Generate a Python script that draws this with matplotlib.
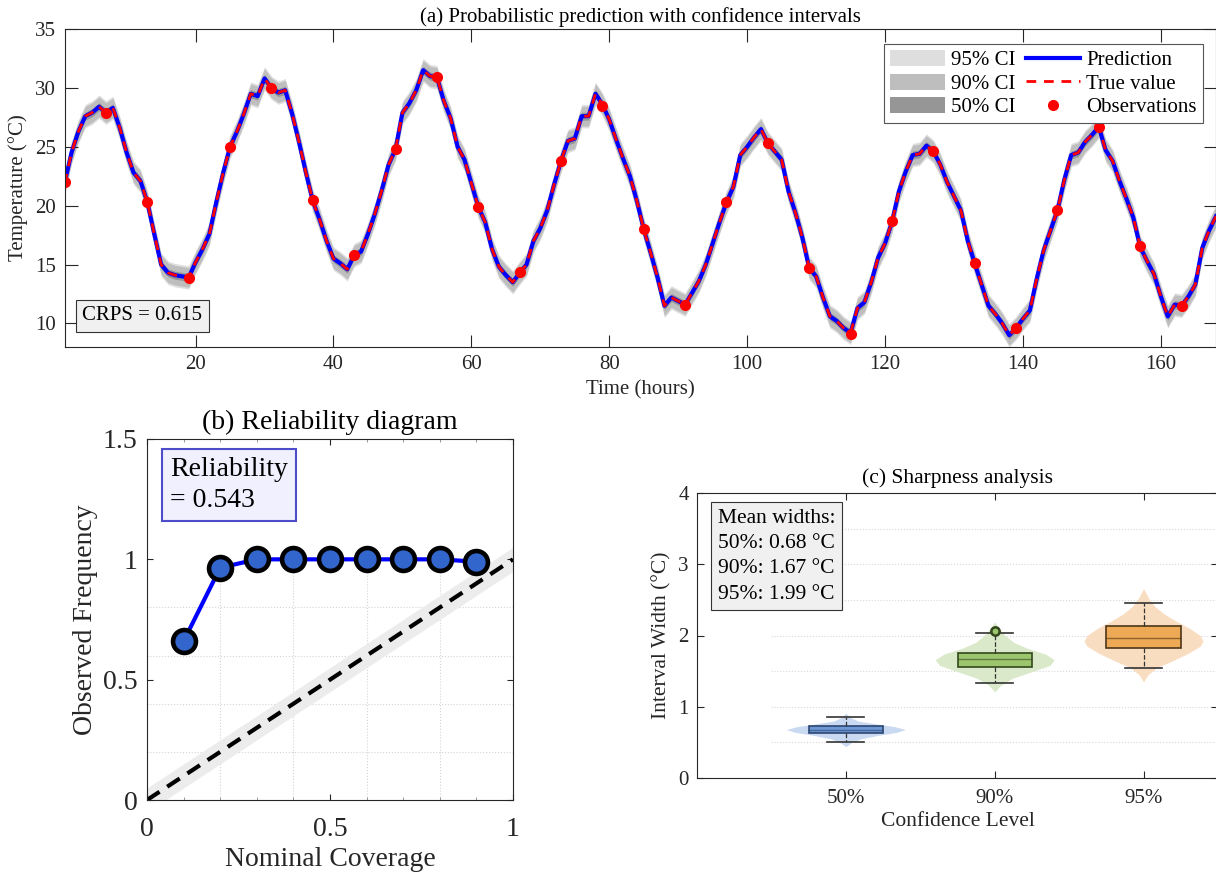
import numpy as np
import matplotlib.pyplot as plt

plt.rcParams['font.family'] = ['Liberation Serif', 'DejaVu Serif']
plt.rcParams['axes.linewidth'] = 0.8

# (a) hourly prediction (true value is drawn on top of it)
hours = np.arange(1, 169)
prediction = [
    21.9, 24.5, 26.3, 27.6, 27.9, 28.4, 27.9, 28.3, 26.6, 24.5, 22.8, 22.1,
    20.3, 17.6, 15.0, 14.3, 14.1, 14.0, 13.9, 15.2, 16.3, 17.6, 20.3, 22.8,
    25.0, 26.3, 27.8, 29.5, 29.3, 30.8, 30.0, 29.6, 29.8, 27.8, 25.4, 22.8,
    20.4, 18.8, 17.0, 15.5, 15.1, 14.6, 15.8, 16.1, 17.6, 19.3, 21.3, 23.5,
    24.8, 27.9, 28.7, 29.8, 31.5, 31.0, 30.9, 28.9, 27.4, 25.0, 23.9, 21.9,
    19.9, 18.6, 16.3, 14.8, 14.1, 13.5, 14.3, 15.0, 17.0, 18.1, 19.6, 21.8,
    23.8, 25.5, 25.7, 27.6, 27.6, 29.5, 28.6, 27.3, 25.6, 24.0, 22.5, 20.4,
    18.0, 16.0, 13.9, 11.5, 12.2, 11.9, 11.6, 12.6, 13.6, 15.0, 16.8, 18.6,
    20.3, 21.6, 24.3, 25.0, 25.8, 26.5, 25.3, 24.6, 23.9, 21.2, 19.4, 17.3,
    14.7, 14.0, 12.2, 10.6, 10.2, 9.6, 9.2, 11.3, 11.8, 13.5, 15.6, 16.8,
    18.6, 21.2, 22.9, 24.3, 24.4, 25.1, 24.6, 23.5, 22.0, 20.8, 19.6, 17.0,
    15.1, 13.3, 11.5, 10.8, 10.0, 9.0, 9.6, 10.4, 11.1, 13.8, 16.2, 17.9,
    19.6, 22.2, 24.3, 24.5, 25.4, 26.0, 26.7, 24.7, 23.8, 22.1, 20.6, 19.0,
    16.5, 15.3, 14.2, 12.3, 10.6, 11.6, 11.5, 12.3, 13.3, 16.4, 17.9, 19.1,
]
true_value = prediction
obs_hours = list(range(1, 168, 6))
observations = [22.0, 27.9, 20.3, 13.9, 25.0, 30.0, 20.5, 15.8, 24.8, 30.9,
                19.9, 14.4, 23.8, 28.5, 18.0, 11.6, 20.3, 25.3, 14.7, 9.1,
                18.7, 24.6, 15.1, 9.6, 19.6, 26.7, 16.6, 11.5]
ci_labels = ['95% CI', '90% CI', '50% CI']
ci_widths = [1.99, 1.67, 0.68]
ci_colors = ['#dedede', '#bebebe', '#969696']
crps = 0.615

# (b) reliability
nominal = [0.1, 0.2, 0.3, 0.4, 0.5, 0.6, 0.7, 0.8, 0.9]
observed = [0.66, 0.965, 1.0, 1.0, 1.0, 1.0, 1.0, 1.0, 0.99]
reliability = 0.543

# (c) sharpness
levels = ['50%', '90%', '95%']
mean_width = [0.68, 1.67, 1.99]
q1 = [0.63, 1.56, 1.83]
med = [0.677, 1.667, 1.965]
q3 = [0.733, 1.75, 2.13]
whis_lo = [0.504, 1.335, 1.545]
whis_hi = [0.854, 2.03, 2.46]
fliers = [[], [2.06], []]
violin_y = [
    [0.44, 0.50, 0.55, 0.60, 0.64, 0.68, 0.72, 0.76, 0.80, 0.85, 0.91],
    [1.21, 1.30, 1.40, 1.50, 1.58, 1.66, 1.74, 1.82, 1.90, 2.00, 2.10, 2.19],
    [1.35, 1.45, 1.55, 1.65, 1.75, 1.85, 1.92, 2.00, 2.10, 2.20, 2.30, 2.40, 2.50, 2.66],
]
violin_w = [
    [0.0, 0.04, 0.10, 0.22, 0.34, 0.40, 0.33, 0.20, 0.08, 0.03, 0.0],
    [0.0, 0.04, 0.12, 0.26, 0.37, 0.40, 0.34, 0.22, 0.13, 0.07, 0.03, 0.0],
    [0.0, 0.03, 0.09, 0.20, 0.30, 0.38, 0.40, 0.38, 0.31, 0.22, 0.14, 0.08, 0.04, 0.0],
]
violin_colors = ['#c9d9f1', '#d9e9c9', '#f9ddc0']
box_colors = ['#6d98d6', '#9cc66e', '#eda955']
edge_colors = ['#2c4670', '#33461d', '#4d3618']

dark = '#262626'
W, H = 1216, 875
fig = plt.figure(figsize=(W / 100, H / 100), dpi=100)

# ---------------- (a) ----------------
ax1 = fig.add_axes([64.6 / W, 1 - 347 / H, (1216 - 64.6) / W, 318 / H])
pred = np.array(prediction)
for lab, w, c in zip(ci_labels, ci_widths, ci_colors):
    ax1.fill_between(hours, pred - w / 2, pred + w / 2, color=c, lw=0, label=lab)
ax1.plot(hours, prediction, color='blue', lw=3, label='Prediction')
ax1.plot(hours, true_value, color='red', lw=2, ls='--', dashes=(3.5, 2.8), label='True value')
ax1.plot(obs_hours, observations, 'o', color='red', ms=7, label='Observations')
ax1.set_xlim(1, 168)
ax1.set_ylim(8, 35)
ax1.set_xticks(range(20, 161, 20))
ax1.set_yticks(range(10, 36, 5))
ax1.tick_params(direction='in', top=True, right=True, length=9, width=0.8,
                colors=dark, labelsize=15, pad=6)
ax1.set_xlabel('Time (hours)', fontsize=15, color=dark, labelpad=4)
ax1.set_ylabel('Temperature (°C)', fontsize=15, color=dark, labelpad=5)
ax1.set_title('(a) Probabilistic prediction with confidence intervals',
              fontsize=15, color='black', pad=5)
leg = ax1.legend(ncol=2, loc='upper right', bbox_to_anchor=(0.9887, 0.9528),
                 borderaxespad=0, fontsize=15, fancybox=False, edgecolor='#555555',
                 framealpha=1, handlelength=2.6, handleheight=0.8, handletextpad=0.3,
                 columnspacing=0.5, labelspacing=0.15, borderpad=0.3)
leg.get_frame().set_linewidth(0.8)
ax1.text(0.0155, 0.068, f'CRPS = {crps:.3f}', transform=ax1.transAxes, fontsize=15,
         ha='left', va='bottom',
         bbox=dict(boxstyle='square,pad=0.3', fc='#f0f0f0', ec='#333333', lw=0.8))

# ---------------- (b) ----------------
ax2 = fig.add_axes([147 / W, 1 - 800 / H, 366 / W, 361 / H])
for g in [0.2, 0.4, 0.6, 0.8]:
    ax2.plot([0, 1], [g, g], ls=':', color='#d4d4d4', lw=0.8, zorder=0)
    ax2.plot([g, g], [0, 1], ls=':', color='#d4d4d4', lw=0.8, zorder=0)
ax2.fill_between([0, 1], [-0.05, 0.95], [0.05, 1.05], color='#ececec', lw=0, zorder=1)
ax2.plot([0, 1], [0, 1], color='black', lw=3, ls='--', dashes=(3.6, 2.2), zorder=2)
ax2.plot(nominal, observed, '-o', color='blue', lw=3, ms=16.5, mfc='#3366cc',
         mec='black', mew=3.3, zorder=3, clip_on=False)
ax2.set_xlim(0, 1)
ax2.set_ylim(0, 1.5)
ax2.set_xticks([0, 0.5, 1])
ax2.set_xticklabels(['0', '0.5', '1'])
ax2.set_yticks([0, 0.5, 1, 1.5])
ax2.set_yticklabels(['0', '0.5', '1', '1.5'])
ax2.set_xticks(np.arange(0.1, 1.0, 0.1), minor=True)
ax2.tick_params(direction='in', top=True, right=True, length=4, width=0.8,
                colors=dark, labelsize=20)
ax2.tick_params(axis='x', pad=12)
ax2.tick_params(axis='y', pad=7)
ax2.tick_params(which='minor', direction='in', top=True, length=2.5, width=0.6, colors='#888888')
ax2.set_xlabel('Nominal Coverage', fontsize=20, color=dark, labelpad=4)
ax2.set_ylabel('Observed Frequency', fontsize=20, color=dark, labelpad=3)
ax2.set_title('(b) Reliability diagram', fontsize=20, color='black', pad=7)
ax2.text(0.063, 0.95, f'Reliability\n= {reliability:.3f}', transform=ax2.transAxes,
         fontsize=20, ha='left', va='top', linespacing=1.3, zorder=5,
         bbox=dict(boxstyle='square,pad=0.3', fc='#f0f0ff', ec='#4d4dcc', lw=1.5))

# ---------------- (c) ----------------
ax3 = fig.add_axes([697 / W, 1 - 778 / H, 521 / W, 285 / H])
pos = [1, 2, 3]
ax3.hlines(np.arange(0.5, 4.0, 0.5), 0.5, 3.5, colors='#d8d8d8', linestyles=':', lw=0.8, zorder=0)
for p, vy, vw, c in zip(pos, violin_y, violin_w, violin_colors):
    vw = np.array(vw)
    ax3.fill_betweenx(vy, p - vw, p + vw, color=c, lw=0, zorder=1)
stats = [dict(med=m, q1=a, q3=b, whislo=lo, whishi=hi, fliers=f)
         for m, a, b, lo, hi, f in zip(med, q1, q3, whis_lo, whis_hi, fliers)]
bp = ax3.bxp(stats, positions=pos, widths=0.5, patch_artist=True, zorder=2,
             whiskerprops=dict(ls='--', lw=0.9, color='#333333'),
             capprops=dict(lw=1.2, color='#333333'),
             flierprops=dict(marker='o', ms=6, mew=1.8))
for i in range(3):
    bp['boxes'][i].set(facecolor=box_colors[i], edgecolor=edge_colors[i], lw=1.2)
    bp['medians'][i].set(color=edge_colors[i], lw=1.0, alpha=0.6)
    bp['fliers'][i].set(mfc=box_colors[i], mec=edge_colors[i])
ax3.set_xlim(0, 3.5)
ax3.set_ylim(0, 4)
ax3.set_xticks(pos)
ax3.set_xticklabels(levels)
ax3.set_yticks(range(0, 5))
ax3.tick_params(direction='in', top=True, right=True, length=5, width=0.8,
                colors=dark, labelsize=15)
ax3.tick_params(axis='x', pad=8)
ax3.tick_params(axis='y', pad=6)
ax3.set_xlabel('Confidence Level', fontsize=15.5, color=dark, labelpad=3)
ax3.set_ylabel('Interval Width (°C)', fontsize=15.5, color=dark, labelpad=5)
ax3.set_title('(c) Sharpness analysis', fontsize=15.5, color='black', pad=7)
txt = 'Mean widths:\n' + '\n'.join(f'{l}: {m:.2f} °C' for l, m in zip(levels, mean_width))
ax3.text(0.040, 0.945, txt, transform=ax3.transAxes, fontsize=15.5, ha='left', va='top',
         linespacing=1.45, zorder=5,
         bbox=dict(boxstyle='square,pad=0.3', fc='#f0f0f0', ec='#333333', lw=0.8))

for ax in (ax1, ax2, ax3):
    for s in ax.spines.values():
        s.set_color(dark)

fig.savefig('out.png', dpi=100)
